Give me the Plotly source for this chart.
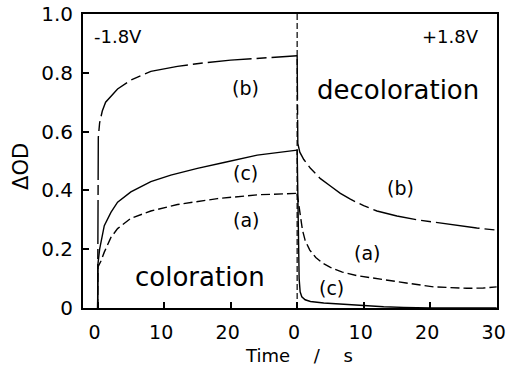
import plotly.graph_objects as go

# Coloration at -1.8 V (time in s, ΔOD)
col_t_a = [0, 0.05, 0.5, 1, 2, 3, 5, 8, 12, 18, 24, 30]
col_a = [0, 0.14, 0.16, 0.19, 0.24, 0.27, 0.305, 0.33, 0.352, 0.372, 0.385, 0.39]

col_t_b = [0, 0.02, 0.1, 0.3, 0.7, 1.2, 2, 3, 5, 8, 12, 16, 20, 25, 30]
col_b = [0, 0.3, 0.58, 0.63, 0.67, 0.7, 0.72, 0.745, 0.775, 0.805, 0.822, 0.834, 0.843, 0.851, 0.858]

col_t_c = [0, 0.05, 0.3, 1, 2, 3, 5, 8, 11, 15, 19, 24, 30]
col_c = [0, 0.15, 0.2, 0.28, 0.325, 0.36, 0.395, 0.43, 0.452, 0.475, 0.495, 0.52, 0.537]

# Decoloration at +1.8 V
dec_t_a = [0, 0.2, 0.5, 0.8, 1.2, 1.9, 2.8, 3.8, 5, 6.8, 9, 11.3, 14, 16.4, 20.5, 25.5, 28, 30]
dec_a = [0.39, 0.36, 0.31, 0.265, 0.23, 0.197, 0.172, 0.153, 0.138, 0.122, 0.11, 0.102,
         0.092, 0.085, 0.072, 0.067, 0.068, 0.072]

dec_t_b = [0, 0.1, 0.4, 1, 2, 3.5, 5, 6.5, 8, 10, 12, 15, 18, 21, 24, 27, 30]
dec_b = [0.858, 0.56, 0.53, 0.505, 0.475, 0.44, 0.415, 0.39, 0.37, 0.348, 0.33, 0.313,
         0.3, 0.29, 0.28, 0.272, 0.265]

dec_t_c = [0, 0.3, 0.45, 0.7, 1.2, 2, 4, 7, 10, 13, 16, 20, 30]
dec_c = [0.537, 0.1, 0.055, 0.038, 0.028, 0.022, 0.017, 0.012, 0.007, 0.004, 0.002, 0, 0]

x_tickvals = [0, 10, 20, 30, 40, 50, 60]
x_ticktext = ["0", "10", "20", "0", "10", "20", "30"]
y_tickvals = [0, 0.2, 0.4, 0.6, 0.8, 1.0]
y_ticktext = ["0", "0.2", "0.4", "0.6", "0.8", "1.0"]

SWITCH = 30  # second segment is plotted after the first 30 s

FONT = "DejaVu Sans"
styles = {
    "a": dict(color="black", width=1.4, dash="9px,4px"),
    "b": dict(color="black", width=1.4, dash="44px,5px,10px,5px"),
    "c": dict(color="black", width=1.4),
}

fig = go.Figure()
for key, t, v in [("a", col_t_a, col_a), ("b", col_t_b, col_b), ("c", col_t_c, col_c)]:
    fig.add_trace(go.Scatter(x=t, y=v, mode="lines", line=styles[key], showlegend=False))
for key, t, v in [("a", dec_t_a, dec_a), ("b", dec_t_b, dec_b), ("c", dec_t_c, dec_c)]:
    fig.add_trace(go.Scatter(x=[ti + SWITCH for ti in t], y=v, mode="lines",
                             line=styles[key], showlegend=False))

# potential switch marker
fig.add_shape(type="line", x0=SWITCH, x1=SWITCH, y0=0, y1=1, xref="x", yref="y",
              line=dict(color="black", width=1.2, dash="6px,3px"))

def label(x, y, text, size=19):
    fig.add_annotation(x=x, y=y, xref="x", yref="y", text=text, showarrow=False,
                       xanchor="center", yanchor="middle",
                       font=dict(family=FONT, size=size, color="black"))

label(22.2, 0.748, "(b)")
label(22.2, 0.459, "(c)")
label(22.3, 0.299, "(a)")
label(SWITCH + 15.6, 0.408, "(b)")
label(SWITCH + 10.5, 0.187, "(a)")
label(SWITCH + 5.1, 0.068, "(c)")
label(15.4, 0.105, "coloration", 26)
label(SWITCH + 15.2, 0.742, "decoloration", 26)
label(3.0, 0.922, "-1.8V", 18)
label(SWITCH + 23.0, 0.922, "+1.8V", 18)

# axis titles
gap = " \u2002\u2002"
fig.add_annotation(x=0.5217, y=-0.163, xref="paper", yref="paper",
                   xanchor="center", yanchor="middle",
                   text="Time" + gap + "/" + gap + "s", showarrow=False,
                   font=dict(family=FONT, size=18, color="black"))
fig.add_annotation(x=-0.15, y=0.483, xref="paper", yref="paper", text="ΔOD",
                   xanchor="center", yanchor="middle",
                   textangle=-90, showarrow=False,
                   font=dict(family=FONT, size=21, color="black"))

axis_common = dict(showline=True, linecolor="black", linewidth=2, mirror=True,
                   ticks="inside", ticklen=6, tickwidth=1.5, tickcolor="black",
                   showgrid=False, zeroline=False, ticklabeloverflow="allow",
                   automargin=False)

fig.update_xaxes(range=[-2.2, 60.05], tickmode="array", tickvals=x_tickvals,
                 ticktext=x_ticktext, ticklabelstandoff=6, ticklabelshift=-3,
                 tickfont=dict(family=FONT, size=19, color="black"), **axis_common)
fig.update_yaxes(range=[0, 1.0], tickmode="array", tickvals=y_tickvals,
                 ticktext=y_ticktext, ticklabelstandoff=4,
                 tickfont=dict(family=FONT, size=20, color="black"), **axis_common)

fig.update_layout(width=507, height=368, margin=dict(l=83, r=10, t=14, b=60),
                  plot_bgcolor="white", paper_bgcolor="white")

fig.write_html("out.html")
